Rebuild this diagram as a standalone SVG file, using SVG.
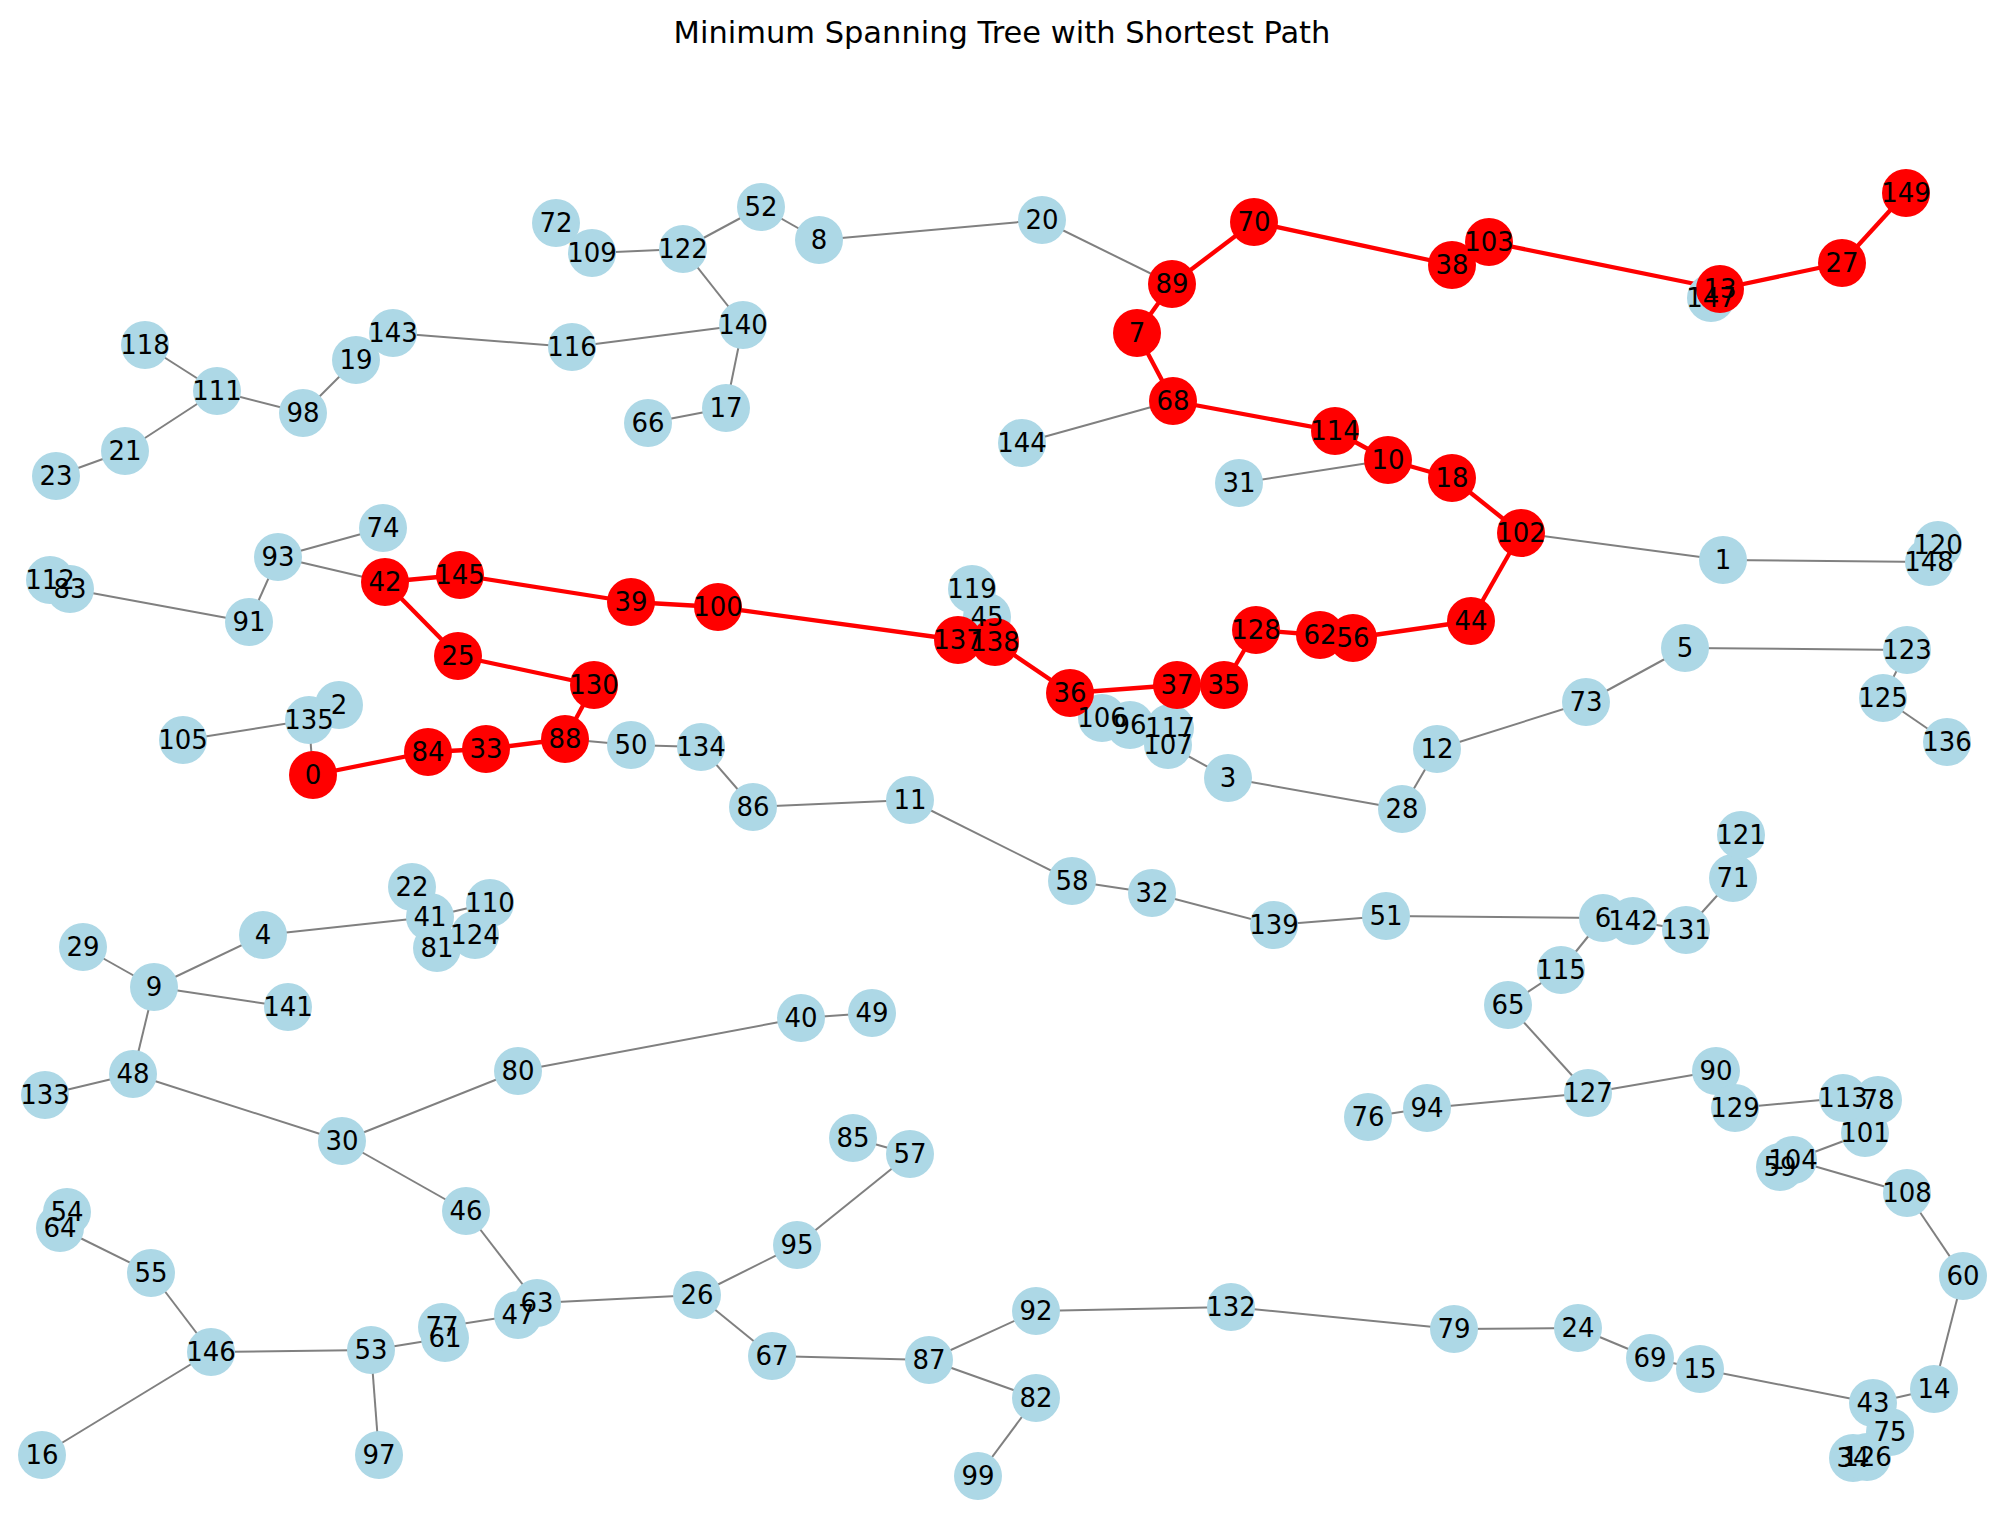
<svg xmlns="http://www.w3.org/2000/svg" width="2005" height="1518" viewBox="0 0 2005 1518">
<style>
.e{stroke:#808080;stroke-width:2}
.p{stroke:#ff0000;stroke-width:4.3}
.n{fill:#add8e6}
.r{fill:#ff0000}
text{font-family:"DejaVu Sans","Liberation Sans",sans-serif;font-size:26px;fill:#000;text-anchor:middle}
.title{font-size:30.5px}
</style>
<rect width="2005" height="1518" fill="#fff"/>
<text class="title" x="1002" y="43">Minimum Spanning Tree with Shortest Path</text>
<g id="connectors" stroke-linecap="butt">
<line class="e" x1="313" y1="775" x2="309" y2="720"/>
<line class="e" x1="309" y1="720" x2="183" y2="740"/>
<line class="e" x1="309" y1="720" x2="339" y2="705"/>
<line class="e" x1="565" y1="739" x2="631" y2="745"/>
<line class="e" x1="631" y1="745" x2="701" y2="747"/>
<line class="e" x1="701" y1="747" x2="753" y2="807"/>
<line class="e" x1="753" y1="807" x2="910" y2="800"/>
<line class="e" x1="910" y1="800" x2="1072" y2="881"/>
<line class="e" x1="1072" y1="881" x2="1152" y2="893"/>
<line class="e" x1="1152" y1="893" x2="1274" y2="925"/>
<line class="e" x1="1274" y1="925" x2="1386" y2="916"/>
<line class="e" x1="1386" y1="916" x2="1603" y2="918"/>
<line class="e" x1="1603" y1="918" x2="1633" y2="921"/>
<line class="e" x1="1633" y1="921" x2="1686" y2="930"/>
<line class="e" x1="1686" y1="930" x2="1733" y2="878"/>
<line class="e" x1="1733" y1="878" x2="1741" y2="835"/>
<line class="e" x1="1603" y1="918" x2="1561" y2="970"/>
<line class="e" x1="1561" y1="970" x2="1508" y2="1005"/>
<line class="e" x1="1508" y1="1005" x2="1588" y2="1093"/>
<line class="e" x1="1588" y1="1093" x2="1427" y2="1108"/>
<line class="e" x1="1427" y1="1108" x2="1368" y2="1117"/>
<line class="e" x1="1588" y1="1093" x2="1716" y2="1071"/>
<line class="e" x1="1716" y1="1071" x2="1735" y2="1108"/>
<line class="e" x1="1735" y1="1108" x2="1843" y2="1098"/>
<line class="e" x1="1843" y1="1098" x2="1878" y2="1100"/>
<line class="e" x1="1843" y1="1098" x2="1865" y2="1133"/>
<line class="e" x1="1865" y1="1133" x2="1793" y2="1160"/>
<line class="e" x1="1793" y1="1160" x2="1780" y2="1167"/>
<line class="e" x1="1793" y1="1160" x2="1907" y2="1193"/>
<line class="e" x1="1907" y1="1193" x2="1963" y2="1276"/>
<line class="e" x1="1963" y1="1276" x2="1934" y2="1389"/>
<line class="e" x1="1934" y1="1389" x2="1873" y2="1403"/>
<line class="e" x1="1873" y1="1403" x2="1700" y2="1369"/>
<line class="e" x1="1700" y1="1369" x2="1650" y2="1358"/>
<line class="e" x1="1650" y1="1358" x2="1578" y2="1328"/>
<line class="e" x1="1578" y1="1328" x2="1454" y2="1329"/>
<line class="e" x1="1454" y1="1329" x2="1231" y2="1307"/>
<line class="e" x1="1231" y1="1307" x2="1036" y2="1311"/>
<line class="e" x1="1036" y1="1311" x2="929" y2="1360"/>
<line class="e" x1="929" y1="1360" x2="1036" y2="1398"/>
<line class="e" x1="1036" y1="1398" x2="978" y2="1476"/>
<line class="e" x1="929" y1="1360" x2="772" y2="1356"/>
<line class="e" x1="772" y1="1356" x2="697" y2="1295"/>
<line class="e" x1="697" y1="1295" x2="797" y2="1245"/>
<line class="e" x1="797" y1="1245" x2="910" y2="1154"/>
<line class="e" x1="910" y1="1154" x2="853" y2="1138"/>
<line class="e" x1="697" y1="1295" x2="537" y2="1303"/>
<line class="e" x1="537" y1="1303" x2="518" y2="1315"/>
<line class="e" x1="466" y1="1211" x2="537" y2="1303"/>
<line class="e" x1="518" y1="1315" x2="442" y2="1327"/>
<line class="e" x1="442" y1="1327" x2="445" y2="1338"/>
<line class="e" x1="445" y1="1338" x2="371" y2="1350"/>
<line class="e" x1="371" y1="1350" x2="211" y2="1352"/>
<line class="e" x1="371" y1="1350" x2="379" y2="1455"/>
<line class="e" x1="211" y1="1352" x2="151" y2="1273"/>
<line class="e" x1="211" y1="1352" x2="42" y2="1455"/>
<line class="e" x1="151" y1="1273" x2="60" y2="1228"/>
<line class="e" x1="60" y1="1228" x2="67" y2="1212"/>
<line class="e" x1="466" y1="1211" x2="342" y2="1141"/>
<line class="e" x1="342" y1="1141" x2="133" y2="1074"/>
<line class="e" x1="342" y1="1141" x2="518" y2="1071"/>
<line class="e" x1="518" y1="1071" x2="801" y2="1018"/>
<line class="e" x1="801" y1="1018" x2="872" y2="1013"/>
<line class="e" x1="133" y1="1074" x2="45" y2="1095"/>
<line class="e" x1="133" y1="1074" x2="154" y2="987"/>
<line class="e" x1="154" y1="987" x2="83" y2="947"/>
<line class="e" x1="154" y1="987" x2="263" y2="935"/>
<line class="e" x1="154" y1="987" x2="288" y2="1007"/>
<line class="e" x1="263" y1="935" x2="430" y2="917"/>
<line class="e" x1="430" y1="917" x2="412" y2="887"/>
<line class="e" x1="430" y1="917" x2="437" y2="948"/>
<line class="e" x1="430" y1="917" x2="475" y2="935"/>
<line class="e" x1="430" y1="917" x2="490" y2="903"/>
<line class="e" x1="278" y1="557" x2="383" y2="528"/>
<line class="e" x1="278" y1="557" x2="385" y2="582"/>
<line class="e" x1="278" y1="557" x2="249" y2="622"/>
<line class="e" x1="249" y1="622" x2="70" y2="589"/>
<line class="e" x1="70" y1="589" x2="50" y2="580"/>
<line class="e" x1="217" y1="391" x2="145" y2="345"/>
<line class="e" x1="217" y1="391" x2="125" y2="451"/>
<line class="e" x1="125" y1="451" x2="56" y2="476"/>
<line class="e" x1="217" y1="391" x2="303" y2="413"/>
<line class="e" x1="303" y1="413" x2="356" y2="360"/>
<line class="e" x1="356" y1="360" x2="393" y2="333"/>
<line class="e" x1="393" y1="333" x2="572" y2="347"/>
<line class="e" x1="572" y1="347" x2="743" y2="325"/>
<line class="e" x1="743" y1="325" x2="683" y2="249"/>
<line class="e" x1="743" y1="325" x2="726" y2="408"/>
<line class="e" x1="726" y1="408" x2="648" y2="423"/>
<line class="e" x1="683" y1="249" x2="592" y2="253"/>
<line class="e" x1="592" y1="253" x2="556" y2="223"/>
<line class="e" x1="683" y1="249" x2="761" y2="207"/>
<line class="e" x1="761" y1="207" x2="819" y2="240"/>
<line class="e" x1="819" y1="240" x2="1042" y2="220"/>
<line class="e" x1="1042" y1="220" x2="1172" y2="284"/>
<line class="e" x1="1173" y1="401" x2="1022" y2="443"/>
<line class="e" x1="1388" y1="460" x2="1239" y2="483"/>
<line class="e" x1="1521" y1="533" x2="1723" y2="560"/>
<line class="e" x1="1723" y1="560" x2="1929" y2="562"/>
<line class="e" x1="1929" y1="562" x2="1938" y2="545"/>
<line class="e" x1="1685" y1="648" x2="1907" y2="650"/>
<line class="e" x1="1907" y1="650" x2="1883" y2="698"/>
<line class="e" x1="1883" y1="698" x2="1947" y2="742"/>
<line class="e" x1="1685" y1="648" x2="1586" y2="702"/>
<line class="e" x1="1586" y1="702" x2="1437" y2="749"/>
<line class="e" x1="1437" y1="749" x2="1402" y2="809"/>
<line class="e" x1="1402" y1="809" x2="1228" y2="778"/>
<line class="e" x1="1228" y1="778" x2="1168" y2="745"/>
<line class="e" x1="1168" y1="745" x2="1170" y2="728"/>
<line class="e" x1="1170" y1="728" x2="1130" y2="725"/>
<line class="e" x1="1130" y1="725" x2="1102" y2="718"/>
<line class="e" x1="1102" y1="718" x2="1070" y2="693"/>
<line class="e" x1="958" y1="640" x2="987" y2="617"/>
<line class="e" x1="987" y1="617" x2="972" y2="589"/>
<line class="e" x1="1873" y1="1403" x2="1890" y2="1432"/>
<line class="e" x1="1890" y1="1432" x2="1867" y2="1457"/>
<line class="e" x1="1867" y1="1457" x2="1853" y2="1458"/>
<line class="e" x1="1720" y1="289" x2="1711" y2="298"/>
<line class="p" x1="313" y1="775" x2="428" y2="752"/>
<line class="p" x1="428" y1="752" x2="486" y2="749"/>
<line class="p" x1="486" y1="749" x2="565" y2="739"/>
<line class="p" x1="565" y1="739" x2="594" y2="685"/>
<line class="p" x1="594" y1="685" x2="458" y2="656"/>
<line class="p" x1="458" y1="656" x2="385" y2="582"/>
<line class="p" x1="385" y1="582" x2="460" y2="575"/>
<line class="p" x1="460" y1="575" x2="631" y2="602"/>
<line class="p" x1="631" y1="602" x2="718" y2="607"/>
<line class="p" x1="718" y1="607" x2="958" y2="640"/>
<line class="p" x1="958" y1="640" x2="995" y2="642"/>
<line class="p" x1="995" y1="642" x2="1070" y2="693"/>
<line class="p" x1="1070" y1="693" x2="1177" y2="685"/>
<line class="p" x1="1177" y1="685" x2="1224" y2="685"/>
<line class="p" x1="1224" y1="685" x2="1256" y2="630"/>
<line class="p" x1="1256" y1="630" x2="1320" y2="635"/>
<line class="p" x1="1320" y1="635" x2="1353" y2="638"/>
<line class="p" x1="1353" y1="638" x2="1471" y2="621"/>
<line class="p" x1="1471" y1="621" x2="1521" y2="533"/>
<line class="p" x1="1521" y1="533" x2="1452" y2="478"/>
<line class="p" x1="1452" y1="478" x2="1388" y2="460"/>
<line class="p" x1="1388" y1="460" x2="1335" y2="431"/>
<line class="p" x1="1335" y1="431" x2="1173" y2="401"/>
<line class="p" x1="1173" y1="401" x2="1137" y2="333"/>
<line class="p" x1="1137" y1="333" x2="1172" y2="284"/>
<line class="p" x1="1172" y1="284" x2="1254" y2="222"/>
<line class="p" x1="1254" y1="222" x2="1452" y2="265"/>
<line class="p" x1="1452" y1="265" x2="1489" y2="242"/>
<line class="p" x1="1489" y1="242" x2="1720" y2="289"/>
<line class="p" x1="1720" y1="289" x2="1842" y2="263"/>
<line class="p" x1="1842" y1="263" x2="1906" y2="193"/>
</g>
<g id="nodes">
<g id="node-1"><circle class="n" cx="1723" cy="560" r="24"/></g>
<g id="node-2"><circle class="n" cx="339" cy="705" r="24"/></g>
<g id="node-3"><circle class="n" cx="1228" cy="778" r="24"/></g>
<g id="node-4"><circle class="n" cx="263" cy="935" r="24"/></g>
<g id="node-5"><circle class="n" cx="1685" cy="648" r="24"/></g>
<g id="node-6"><circle class="n" cx="1603" cy="918" r="24"/></g>
<g id="node-8"><circle class="n" cx="819" cy="240" r="24"/></g>
<g id="node-9"><circle class="n" cx="154" cy="987" r="24"/></g>
<g id="node-11"><circle class="n" cx="910" cy="800" r="24"/></g>
<g id="node-12"><circle class="n" cx="1437" cy="749" r="24"/></g>
<g id="node-14"><circle class="n" cx="1934" cy="1389" r="24"/></g>
<g id="node-15"><circle class="n" cx="1700" cy="1369" r="24"/></g>
<g id="node-16"><circle class="n" cx="42" cy="1455" r="24"/></g>
<g id="node-17"><circle class="n" cx="726" cy="408" r="24"/></g>
<g id="node-19"><circle class="n" cx="356" cy="360" r="24"/></g>
<g id="node-20"><circle class="n" cx="1042" cy="220" r="24"/></g>
<g id="node-21"><circle class="n" cx="125" cy="451" r="24"/></g>
<g id="node-22"><circle class="n" cx="412" cy="887" r="24"/></g>
<g id="node-23"><circle class="n" cx="56" cy="476" r="24"/></g>
<g id="node-24"><circle class="n" cx="1578" cy="1328" r="24"/></g>
<g id="node-26"><circle class="n" cx="697" cy="1295" r="24"/></g>
<g id="node-28"><circle class="n" cx="1402" cy="809" r="24"/></g>
<g id="node-29"><circle class="n" cx="83" cy="947" r="24"/></g>
<g id="node-30"><circle class="n" cx="342" cy="1141" r="24"/></g>
<g id="node-31"><circle class="n" cx="1239" cy="483" r="24"/></g>
<g id="node-32"><circle class="n" cx="1152" cy="893" r="24"/></g>
<g id="node-34"><circle class="n" cx="1853" cy="1458" r="24"/></g>
<g id="node-40"><circle class="n" cx="801" cy="1018" r="24"/></g>
<g id="node-41"><circle class="n" cx="430" cy="917" r="24"/></g>
<g id="node-43"><circle class="n" cx="1873" cy="1403" r="24"/></g>
<g id="node-45"><circle class="n" cx="987" cy="617" r="24"/></g>
<g id="node-46"><circle class="n" cx="466" cy="1211" r="24"/></g>
<g id="node-47"><circle class="n" cx="518" cy="1315" r="24"/></g>
<g id="node-48"><circle class="n" cx="133" cy="1074" r="24"/></g>
<g id="node-49"><circle class="n" cx="872" cy="1013" r="24"/></g>
<g id="node-50"><circle class="n" cx="631" cy="745" r="24"/></g>
<g id="node-51"><circle class="n" cx="1386" cy="916" r="24"/></g>
<g id="node-52"><circle class="n" cx="761" cy="207" r="24"/></g>
<g id="node-53"><circle class="n" cx="371" cy="1350" r="24"/></g>
<g id="node-54"><circle class="n" cx="67" cy="1212" r="24"/></g>
<g id="node-55"><circle class="n" cx="151" cy="1273" r="24"/></g>
<g id="node-57"><circle class="n" cx="910" cy="1154" r="24"/></g>
<g id="node-58"><circle class="n" cx="1072" cy="881" r="24"/></g>
<g id="node-59"><circle class="n" cx="1780" cy="1167" r="24"/></g>
<g id="node-60"><circle class="n" cx="1963" cy="1276" r="24"/></g>
<g id="node-61"><circle class="n" cx="445" cy="1338" r="24"/></g>
<g id="node-63"><circle class="n" cx="537" cy="1303" r="24"/></g>
<g id="node-64"><circle class="n" cx="60" cy="1228" r="24"/></g>
<g id="node-65"><circle class="n" cx="1508" cy="1005" r="24"/></g>
<g id="node-66"><circle class="n" cx="648" cy="423" r="24"/></g>
<g id="node-67"><circle class="n" cx="772" cy="1356" r="24"/></g>
<g id="node-69"><circle class="n" cx="1650" cy="1358" r="24"/></g>
<g id="node-71"><circle class="n" cx="1733" cy="878" r="24"/></g>
<g id="node-72"><circle class="n" cx="556" cy="223" r="24"/></g>
<g id="node-73"><circle class="n" cx="1586" cy="702" r="24"/></g>
<g id="node-74"><circle class="n" cx="383" cy="528" r="24"/></g>
<g id="node-75"><circle class="n" cx="1890" cy="1432" r="24"/></g>
<g id="node-76"><circle class="n" cx="1368" cy="1117" r="24"/></g>
<g id="node-77"><circle class="n" cx="442" cy="1327" r="24"/></g>
<g id="node-78"><circle class="n" cx="1878" cy="1100" r="24"/></g>
<g id="node-79"><circle class="n" cx="1454" cy="1329" r="24"/></g>
<g id="node-80"><circle class="n" cx="518" cy="1071" r="24"/></g>
<g id="node-81"><circle class="n" cx="437" cy="948" r="24"/></g>
<g id="node-82"><circle class="n" cx="1036" cy="1398" r="24"/></g>
<g id="node-83"><circle class="n" cx="70" cy="589" r="24"/></g>
<g id="node-85"><circle class="n" cx="853" cy="1138" r="24"/></g>
<g id="node-86"><circle class="n" cx="753" cy="807" r="24"/></g>
<g id="node-87"><circle class="n" cx="929" cy="1360" r="24"/></g>
<g id="node-90"><circle class="n" cx="1716" cy="1071" r="24"/></g>
<g id="node-91"><circle class="n" cx="249" cy="622" r="24"/></g>
<g id="node-92"><circle class="n" cx="1036" cy="1311" r="24"/></g>
<g id="node-93"><circle class="n" cx="278" cy="557" r="24"/></g>
<g id="node-94"><circle class="n" cx="1427" cy="1108" r="24"/></g>
<g id="node-95"><circle class="n" cx="797" cy="1245" r="24"/></g>
<g id="node-96"><circle class="n" cx="1130" cy="725" r="24"/></g>
<g id="node-97"><circle class="n" cx="379" cy="1455" r="24"/></g>
<g id="node-98"><circle class="n" cx="303" cy="413" r="24"/></g>
<g id="node-99"><circle class="n" cx="978" cy="1476" r="24"/></g>
<g id="node-101"><circle class="n" cx="1865" cy="1133" r="24"/></g>
<g id="node-104"><circle class="n" cx="1793" cy="1160" r="24"/></g>
<g id="node-105"><circle class="n" cx="183" cy="740" r="24"/></g>
<g id="node-106"><circle class="n" cx="1102" cy="718" r="24"/></g>
<g id="node-107"><circle class="n" cx="1168" cy="745" r="24"/></g>
<g id="node-108"><circle class="n" cx="1907" cy="1193" r="24"/></g>
<g id="node-109"><circle class="n" cx="592" cy="253" r="24"/></g>
<g id="node-110"><circle class="n" cx="490" cy="903" r="24"/></g>
<g id="node-111"><circle class="n" cx="217" cy="391" r="24"/></g>
<g id="node-112"><circle class="n" cx="50" cy="580" r="24"/></g>
<g id="node-113"><circle class="n" cx="1843" cy="1098" r="24"/></g>
<g id="node-115"><circle class="n" cx="1561" cy="970" r="24"/></g>
<g id="node-116"><circle class="n" cx="572" cy="347" r="24"/></g>
<g id="node-117"><circle class="n" cx="1170" cy="728" r="24"/></g>
<g id="node-118"><circle class="n" cx="145" cy="345" r="24"/></g>
<g id="node-119"><circle class="n" cx="972" cy="589" r="24"/></g>
<g id="node-120"><circle class="n" cx="1938" cy="545" r="24"/></g>
<g id="node-121"><circle class="n" cx="1741" cy="835" r="24"/></g>
<g id="node-122"><circle class="n" cx="683" cy="249" r="24"/></g>
<g id="node-123"><circle class="n" cx="1907" cy="650" r="24"/></g>
<g id="node-124"><circle class="n" cx="475" cy="935" r="24"/></g>
<g id="node-125"><circle class="n" cx="1883" cy="698" r="24"/></g>
<g id="node-126"><circle class="n" cx="1867" cy="1457" r="24"/></g>
<g id="node-127"><circle class="n" cx="1588" cy="1093" r="24"/></g>
<g id="node-129"><circle class="n" cx="1735" cy="1108" r="24"/></g>
<g id="node-131"><circle class="n" cx="1686" cy="930" r="24"/></g>
<g id="node-132"><circle class="n" cx="1231" cy="1307" r="24"/></g>
<g id="node-133"><circle class="n" cx="45" cy="1095" r="24"/></g>
<g id="node-134"><circle class="n" cx="701" cy="747" r="24"/></g>
<g id="node-135"><circle class="n" cx="309" cy="720" r="24"/></g>
<g id="node-136"><circle class="n" cx="1947" cy="742" r="24"/></g>
<g id="node-139"><circle class="n" cx="1274" cy="925" r="24"/></g>
<g id="node-140"><circle class="n" cx="743" cy="325" r="24"/></g>
<g id="node-141"><circle class="n" cx="288" cy="1007" r="24"/></g>
<g id="node-142"><circle class="n" cx="1633" cy="921" r="24"/></g>
<g id="node-143"><circle class="n" cx="393" cy="333" r="24"/></g>
<g id="node-144"><circle class="n" cx="1022" cy="443" r="24"/></g>
<g id="node-146"><circle class="n" cx="211" cy="1352" r="24"/></g>
<g id="node-147"><circle class="n" cx="1711" cy="298" r="24"/></g>
<g id="node-148"><circle class="n" cx="1929" cy="562" r="24"/></g>
<g id="node-0"><circle class="r" cx="313" cy="775" r="24"/></g>
<g id="node-7"><circle class="r" cx="1137" cy="333" r="24"/></g>
<g id="node-10"><circle class="r" cx="1388" cy="460" r="24"/></g>
<g id="node-13"><circle class="r" cx="1720" cy="289" r="24"/></g>
<g id="node-18"><circle class="r" cx="1452" cy="478" r="24"/></g>
<g id="node-25"><circle class="r" cx="458" cy="656" r="24"/></g>
<g id="node-27"><circle class="r" cx="1842" cy="263" r="24"/></g>
<g id="node-33"><circle class="r" cx="486" cy="749" r="24"/></g>
<g id="node-35"><circle class="r" cx="1224" cy="685" r="24"/></g>
<g id="node-36"><circle class="r" cx="1070" cy="693" r="24"/></g>
<g id="node-37"><circle class="r" cx="1177" cy="685" r="24"/></g>
<g id="node-38"><circle class="r" cx="1452" cy="265" r="24"/></g>
<g id="node-39"><circle class="r" cx="631" cy="602" r="24"/></g>
<g id="node-42"><circle class="r" cx="385" cy="582" r="24"/></g>
<g id="node-44"><circle class="r" cx="1471" cy="621" r="24"/></g>
<g id="node-56"><circle class="r" cx="1353" cy="638" r="24"/></g>
<g id="node-62"><circle class="r" cx="1320" cy="635" r="24"/></g>
<g id="node-68"><circle class="r" cx="1173" cy="401" r="24"/></g>
<g id="node-70"><circle class="r" cx="1254" cy="222" r="24"/></g>
<g id="node-84"><circle class="r" cx="428" cy="752" r="24"/></g>
<g id="node-88"><circle class="r" cx="565" cy="739" r="24"/></g>
<g id="node-89"><circle class="r" cx="1172" cy="284" r="24"/></g>
<g id="node-100"><circle class="r" cx="718" cy="607" r="24"/></g>
<g id="node-102"><circle class="r" cx="1521" cy="533" r="24"/></g>
<g id="node-103"><circle class="r" cx="1489" cy="242" r="24"/></g>
<g id="node-114"><circle class="r" cx="1335" cy="431" r="24"/></g>
<g id="node-128"><circle class="r" cx="1256" cy="630" r="24"/></g>
<g id="node-130"><circle class="r" cx="594" cy="685" r="24"/></g>
<g id="node-137"><circle class="r" cx="958" cy="640" r="24"/></g>
<g id="node-138"><circle class="r" cx="995" cy="642" r="24"/></g>
<g id="node-145"><circle class="r" cx="460" cy="575" r="24"/></g>
<g id="node-149"><circle class="r" cx="1906" cy="193" r="24"/></g>
</g>
<g id="node-labels">
<text x="313" y="784">0</text><text x="1723" y="569">1</text><text x="339" y="714">2</text><text x="1228" y="787">3</text><text x="263" y="944">4</text><text x="1685" y="657">5</text><text x="1603" y="927">6</text><text x="1137" y="342">7</text><text x="819" y="249">8</text><text x="154" y="996">9</text>
<text x="1388" y="469">10</text><text x="910" y="809">11</text><text x="1437" y="758">12</text><text x="1720" y="298">13</text><text x="1934" y="1398">14</text><text x="1700" y="1378">15</text><text x="42" y="1464">16</text><text x="726" y="417">17</text><text x="1452" y="487">18</text><text x="356" y="369">19</text>
<text x="1042" y="229">20</text><text x="125" y="460">21</text><text x="412" y="896">22</text><text x="56" y="485">23</text><text x="1578" y="1337">24</text><text x="458" y="665">25</text><text x="697" y="1304">26</text><text x="1842" y="272">27</text><text x="1402" y="818">28</text><text x="83" y="956">29</text>
<text x="342" y="1150">30</text><text x="1239" y="492">31</text><text x="1152" y="902">32</text><text x="486" y="758">33</text><text x="1853" y="1467">34</text><text x="1224" y="694">35</text><text x="1070" y="702">36</text><text x="1177" y="694">37</text><text x="1452" y="274">38</text><text x="631" y="611">39</text>
<text x="801" y="1027">40</text><text x="430" y="926">41</text><text x="385" y="591">42</text><text x="1873" y="1412">43</text><text x="1471" y="630">44</text><text x="987" y="626">45</text><text x="466" y="1220">46</text><text x="518" y="1324">47</text><text x="133" y="1083">48</text><text x="872" y="1022">49</text>
<text x="631" y="754">50</text><text x="1386" y="925">51</text><text x="761" y="216">52</text><text x="371" y="1359">53</text><text x="67" y="1221">54</text><text x="151" y="1282">55</text><text x="1353" y="647">56</text><text x="910" y="1163">57</text><text x="1072" y="890">58</text><text x="1780" y="1176">59</text>
<text x="1963" y="1285">60</text><text x="445" y="1347">61</text><text x="1320" y="644">62</text><text x="537" y="1312">63</text><text x="60" y="1237">64</text><text x="1508" y="1014">65</text><text x="648" y="432">66</text><text x="772" y="1365">67</text><text x="1173" y="410">68</text><text x="1650" y="1367">69</text>
<text x="1254" y="231">70</text><text x="1733" y="887">71</text><text x="556" y="232">72</text><text x="1586" y="711">73</text><text x="383" y="537">74</text><text x="1890" y="1441">75</text><text x="1368" y="1126">76</text><text x="442" y="1336">77</text><text x="1878" y="1109">78</text><text x="1454" y="1338">79</text>
<text x="518" y="1080">80</text><text x="437" y="957">81</text><text x="1036" y="1407">82</text><text x="70" y="598">83</text><text x="428" y="761">84</text><text x="853" y="1147">85</text><text x="753" y="816">86</text><text x="929" y="1369">87</text><text x="565" y="748">88</text><text x="1172" y="293">89</text>
<text x="1716" y="1080">90</text><text x="249" y="631">91</text><text x="1036" y="1320">92</text><text x="278" y="566">93</text><text x="1427" y="1117">94</text><text x="797" y="1254">95</text><text x="1130" y="734">96</text><text x="379" y="1464">97</text><text x="303" y="422">98</text><text x="978" y="1485">99</text>
<text x="718" y="616">100</text><text x="1865" y="1142">101</text><text x="1521" y="542">102</text><text x="1489" y="251">103</text><text x="1793" y="1169">104</text><text x="183" y="749">105</text><text x="1102" y="727">106</text><text x="1168" y="754">107</text><text x="1907" y="1202">108</text><text x="592" y="262">109</text>
<text x="490" y="912">110</text><text x="217" y="400">111</text><text x="50" y="589">112</text><text x="1843" y="1107">113</text><text x="1335" y="440">114</text><text x="1561" y="979">115</text><text x="572" y="356">116</text><text x="1170" y="737">117</text><text x="145" y="354">118</text><text x="972" y="598">119</text>
<text x="1938" y="554">120</text><text x="1741" y="844">121</text><text x="683" y="258">122</text><text x="1907" y="659">123</text><text x="475" y="944">124</text><text x="1883" y="707">125</text><text x="1867" y="1466">126</text><text x="1588" y="1102">127</text><text x="1256" y="639">128</text><text x="1735" y="1117">129</text>
<text x="594" y="694">130</text><text x="1686" y="939">131</text><text x="1231" y="1316">132</text><text x="45" y="1104">133</text><text x="701" y="756">134</text><text x="309" y="729">135</text><text x="1947" y="751">136</text><text x="958" y="649">137</text><text x="995" y="651">138</text><text x="1274" y="934">139</text>
<text x="743" y="334">140</text><text x="288" y="1016">141</text><text x="1633" y="930">142</text><text x="393" y="342">143</text><text x="1022" y="452">144</text><text x="460" y="584">145</text><text x="211" y="1361">146</text><text x="1711" y="307">147</text><text x="1929" y="571">148</text><text x="1906" y="202">149</text>
</g>
</svg>
